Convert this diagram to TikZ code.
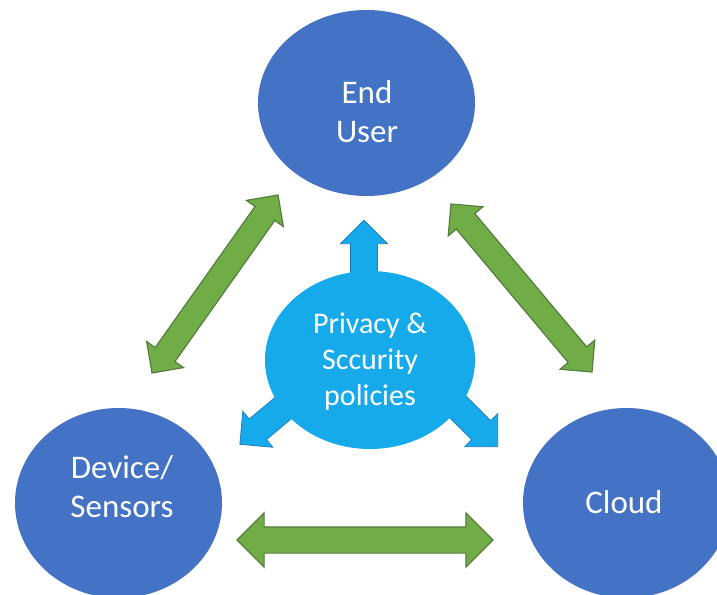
\documentclass[tikz,border=0pt]{standalone}
\usepackage{fontspec}
\setmainfont{Carlito}
\usetikzlibrary{shapes.geometric,shapes.arrows,calc}
\definecolor{nodeblue}{RGB}{68,114,196}
\definecolor{centerblue}{RGB}{22,170,234}
\definecolor{centeredge}{RGB}{30,125,195}
\definecolor{arrowgreen}{RGB}{112,173,71}
\definecolor{arrowedge}{RGB}{84,125,62}
\tikzset{
  bigcircle/.style={ellipse, fill=nodeblue, draw=none, inner sep=0pt},
  bigtext/.style={text=white, align=center, font=\fontsize{33}{39}\selectfont},
  centertext/.style={text=white, align=center, font=\fontsize{30}{36}\selectfont},
  garrow/.style={double arrow, fill=arrowgreen, draw=arrowedge, line width=1.2pt,
    inner xsep=0pt, inner ysep=11.5pt, minimum width=0pt, double arrow head extend=10.5pt},
  barrow/.style={single arrow, fill=centerblue, draw=centeredge, line width=0.8pt,
    inner xsep=0pt, inner ysep=13pt, minimum width=0pt, single arrow head extend=10pt},
}
\newcommand\placearrow[4]{% style, name, from, to
  \path let \p1=($(#4)-(#3)$), \n1={atan2(\y1,\x1)}, \n2={veclen(\x1,\y1)} in
    node[#1, rotate=\n1, minimum height=\n2] (#2) at ($(#3)!0.5!(#4)$) {};}
\begin{document}
\begin{tikzpicture}[x=1pt,y=-1pt]
\useasboundingbox (0,0) rectangle (717,594);
\clip (0,0) rectangle (717,594);
% outer circles
\node[bigcircle, minimum width=217pt, minimum height=186pt] (user) at (366.5,103) {};
\node[bigcircle, minimum width=207pt, minimum height=190pt] (dev) at (118.5,503) {};
\node[bigcircle, minimum width=207pt, minimum height=190pt] (cloud) at (626.5,503) {};
\node[bigtext] (usert) at (367,112) {End\\User};
\node[bigtext] (devt) at (122,487) {Device/\\Sensors};
\node[bigtext] (cloudt) at (624,502) {Cloud};
% green double arrows
\coordinate (la) at (152,373);
\coordinate (lb) at (278,195);
\coordinate (ra) at (451,204);
\coordinate (rb) at (592,372);
\coordinate (ba) at (237,540);
\coordinate (bb) at (493,540);
\placearrow{garrow}{gl}{la}{lb}
\placearrow{garrow}{gr}{ra}{rb}
\placearrow{garrow, inner ysep=12.5pt, double arrow head extend=14pt}{gb}{ba}{bb}
% central policy shape
\coordinate (pc) at (370,360);
\coordinate (tu) at (364,227);
\coordinate (tl) at (245,440);
\coordinate (tr) at (493,442);
\placearrow{barrow}{au}{364,312}{tu}
\placearrow{barrow}{al}{306,389}{tl}
\placearrow{barrow}{ar}{436,385}{tr}
\node[ellipse, fill=centerblue, draw=none, inner sep=0pt,
  minimum width=210pt, minimum height=178pt] (pol) at (pc) {};
\node[centertext] (polt) at (370,362) {Privacy \&\\Sccurity\\policies};
\end{tikzpicture}
\end{document}
